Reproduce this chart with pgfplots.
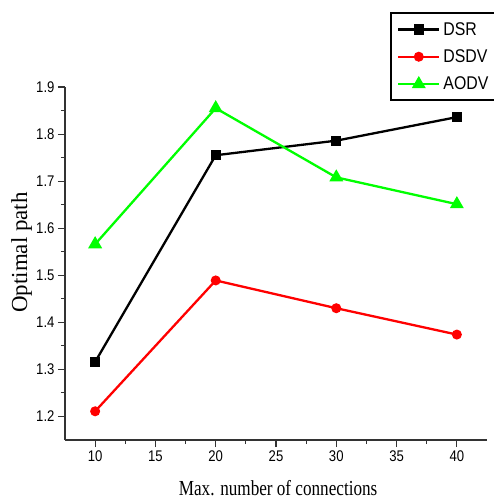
\documentclass[border=0pt]{standalone}
\usepackage{fontspec}
\usepackage{pgfplots}
\pgfplotsset{compat=1.18}
\setmainfont{Liberation Serif}
\newfontfamily\tickfont[FakeStretch=0.85]{Liberation Sans}
\newfontfamily\legfont[FakeStretch=0.86]{Liberation Sans}
\newfontfamily\labfont[FakeStretch=0.8]{Liberation Serif}
\definecolor{dsrc}{HTML}{000000}
\definecolor{dsdvc}{HTML}{FF0000}
\definecolor{aodvc}{HTML}{00FF00}

\begin{document}
\begin{tikzpicture}
\begin{axis}[
  name=ax,
  scale only axis,
  width=422bp, height=353bp,
  xmin=7.5, xmax=42.5, ymin=1.15, ymax=1.9,
  axis lines=left,
  axis line style={-, line width=1.4bp, black!80},
  xtick={10,15,...,40}, ytick={1.2,1.3,...,1.9},
  minor x tick num=1, minor y tick num=1,
  tick align=outside,
  major tick length=7bp, minor tick length=4bp,
  tick style={line width=1.1bp, black!80},
  /pgf/number format/assume math mode=true,
  /pgf/number format/.cd, fixed, fixed zerofill, precision=1, /pgfplots/.cd,
  xticklabel={\pgfmathprintnumber[fixed,precision=0]{\tick}},
  tick label style={font=\tickfont\fontsize{15.5}{15.5}\selectfont},
  xlabel={Max. number of connections},
  ylabel={Optimal path},
  x label style={font=\labfont\fontsize{21.5}{21.5}\selectfont, at={(axis description cs:0.505,-0.158)}, anchor=base},
  y label style={font=\fontsize{23}{23}\selectfont, at={(axis description cs:-0.090,0.531)}, anchor=base},
  legend style={font=\legfont\fontsize{18.5}{18.5}\selectfont, draw=black, line width=2.4bp,
    at={(0.770,1.2125)}, anchor=north west, row sep=7bp, inner sep=6bp,
    nodes={inner sep=3bp, text width=52bp}, cells={anchor=west}},
  legend image code/.code={\draw[mark repeat=2,mark phase=2,#1] plot coordinates {(0bp,0bp) (20.5bp,0bp) (41bp,0bp)};},
  legend cell align=left,
]
\addplot[color=dsrc, line width=2.3bp, mark=square*, mark size=4bp, mark options={solid}] coordinates {
  (10,1.316)(20,1.755)(30,1.786)(40,1.836)};
\addlegendentry{DSR}
\addplot[color=dsdvc, line width=2.3bp, mark=*, mark size=3.8bp, mark options={solid}] coordinates {
  (10,1.211)(20,1.489)(30,1.430)(40,1.374)};
\addlegendentry{DSDV}
\addplot[color=aodvc, line width=2.3bp, mark=triangle*, mark size=5.8bp, mark options={solid}] coordinates {
  (10,1.566)(20,1.855)(30,1.708)(40,1.651)};
\addlegendentry{AODV}
\end{axis}
\pgfresetboundingbox
\path (ax.south west) ++(-65bp,-59bp) rectangle ++(494bp,499bp);
\end{tikzpicture}
\end{document}
